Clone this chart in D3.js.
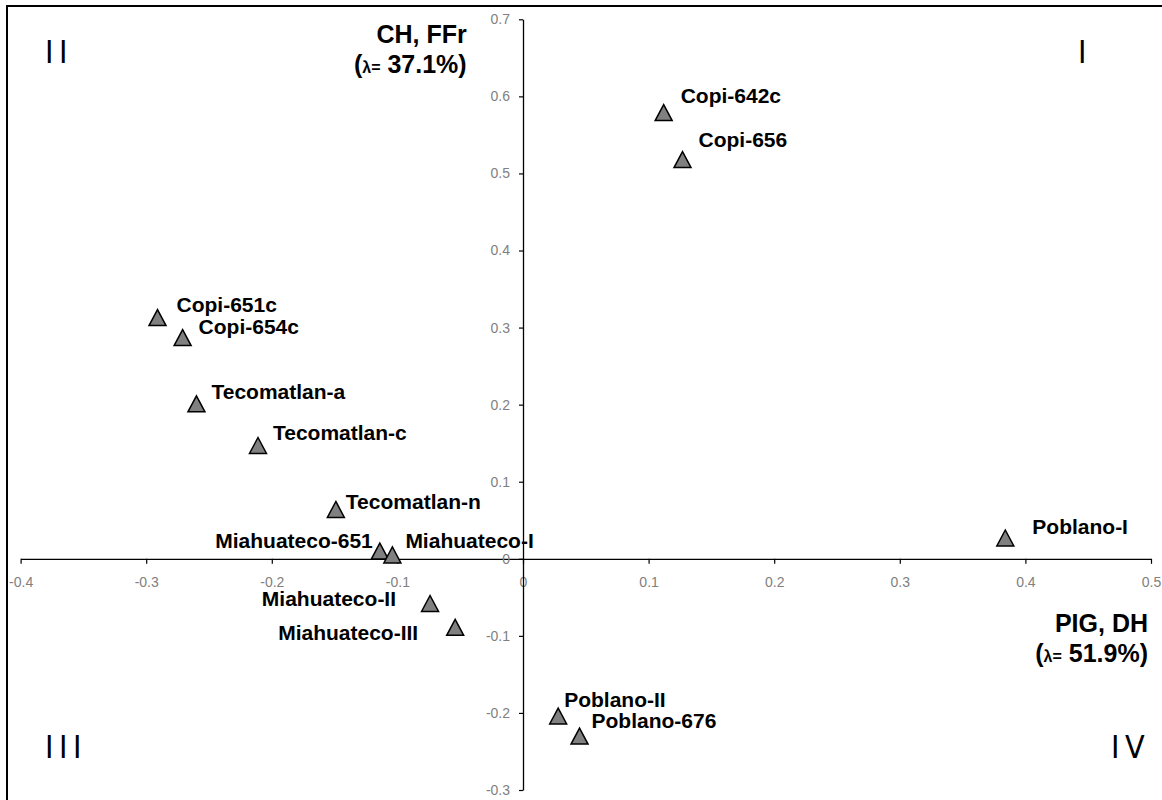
<!DOCTYPE html>
<html>
<head>
<meta charset="utf-8">
<script src="https://cdn.jsdelivr.net/npm/d3@7"></script>
<style>
  body { margin: 0; background: #fff; }
  svg { display: block; font-family: "Liberation Sans", Arial, sans-serif; }
  .tick text { fill: #808080; font-size: 14px; font-family: "Liberation Sans", Arial, sans-serif; }
  .pt-label { font-weight: bold; font-size: 21px; fill: #000; }
  .ax-title { font-weight: bold; font-size: 25px; fill: #000; }
  .quad { font-family: "Liberation Sans Narrow", "DejaVu Sans Condensed", sans-serif; font-size: 32px; letter-spacing: 5.5px; fill: #000; }
</style>
</head>
<body>
<div id="chart"></div>
<script>
// scores on the two principal components
const names = [
  "Copi-642c", "Copi-656", "Copi-651c", "Copi-654c",
  "Tecomatlan-a", "Tecomatlan-c", "Tecomatlan-n",
  "Miahuateco-651", "Miahuateco-I", "Miahuateco-II", "Miahuateco-III",
  "Poblano-I", "Poblano-II", "Poblano-676",
];
const pc1 = [0.112, 0.127, -0.291, -0.271, -0.260, -0.211, -0.149,
  -0.114, -0.104, -0.074, -0.054, 0.384, 0.028, 0.045];
const pc2 = [0.579, 0.518, 0.313, 0.287, 0.201, 0.147, 0.064,
  0.010, 0.005, -0.058, -0.089, 0.027, -0.204, -0.230];

const xTicks = [-0.4, -0.3, -0.2, -0.1, 0, 0.1, 0.2, 0.3, 0.4, 0.5];
const yTicks = [-0.3, -0.2, -0.1, 0, 0.1, 0.2, 0.3, 0.4, 0.5, 0.6, 0.7];

// label placement next to each marker (anchor, dx, dy in px)
const labelPlace = {
  "Copi-642c": ["start", 17, -10],
  "Copi-656": ["start", 16, -13],
  "Copi-651c": ["start", 19, -6],
  "Copi-654c": ["start", 16, -4],
  "Tecomatlan-a": ["start", 15, -5],
  "Tecomatlan-c": ["start", 15, -5],
  "Tecomatlan-n": ["start", 10, 0],
  "Miahuateco-651": ["end", -7, -3],
  "Miahuateco-I": ["start", 13, -7],
  "Miahuateco-II": ["end", -34, 3],
  "Miahuateco-III": ["end", -37, 13],
  "Poblano-I": ["start", 27, -4],
  "Poblano-II": ["start", 6, -9],
  "Poblano-676": ["start", 12, -8],
};

const width = 1162, height = 800;

const svg = d3.select("#chart").append("svg")
  .attr("width", width)
  .attr("height", height);

// frame
svg.append("rect")
  .attr("x", 7).attr("y", 6)
  .attr("width", 1300).attr("height", 1000)
  .attr("fill", "none")
  .attr("stroke", "#000")
  .attr("stroke-width", 2);

const x = d3.scaleLinear().domain([-0.4, 0.5]).range([20.6, 1151]);
const y = d3.scaleLinear().domain([-0.3, 0.7]).range([790, 19.3]);

const fmt = d => (d === 0 ? "0" : d.toFixed(1));

const xAxis = svg.append("g")
  .attr("transform", `translate(0,${y(0)})`)
  .call(d3.axisBottom(x).tickValues(xTicks).tickFormat(fmt)
    .tickSize(5).tickSizeOuter(0).tickPadding(13));

const yAxis = svg.append("g")
  .attr("transform", `translate(${x(0)},0)`)
  .call(d3.axisLeft(y).tickValues(yTicks).tickFormat(fmt)
    .tickSize(4).tickSizeOuter(0).tickPadding(9));

[xAxis, yAxis].forEach(g => {
  g.attr("font-family", null).attr("font-size", null);
  g.select(".domain").attr("stroke", "#000").attr("stroke-width", 1.3);
  g.selectAll(".tick line").attr("stroke", "#000").attr("stroke-width", 1.2);
});

// triangle centred on its bounding box
const tri = {
  draw(ctx, size) {
    const w = Math.sqrt(size), h = w * 0.94;
    ctx.moveTo(0, -h / 2);
    ctx.lineTo(w / 2, h / 2);
    ctx.lineTo(-w / 2, h / 2);
    ctx.closePath();
  },
};

const pts = names.map((n, i) => ({ name: n, a: pc1[i], b: pc2[i] }));

svg.append("g")
  .selectAll("path")
  .data(pts)
  .enter()
  .append("path")
  .attr("d", d3.symbol(tri, 289))
  .attr("transform", d => `translate(${x(d.a)},${y(d.b)})`)
  .attr("fill", "#808080")
  .attr("stroke", "#000")
  .attr("stroke-width", 1.5);

svg.append("g")
  .selectAll("text")
  .data(pts)
  .enter()
  .append("text")
  .attr("class", "pt-label")
  .attr("x", d => x(d.a) + labelPlace[d.name][1])
  .attr("y", d => y(d.b) + labelPlace[d.name][2])
  .attr("text-anchor", d => labelPlace[d.name][0])
  .text(d => d.name);

// axis titles
function axTitle(tx, ty, line1, pct) {
  const g = svg.append("g");
  g.append("text").attr("class", "ax-title")
    .attr("x", tx).attr("y", ty).attr("text-anchor", "end")
    .text(line1);
  const t2 = g.append("text").attr("class", "ax-title")
    .attr("x", tx).attr("y", ty + 30).attr("text-anchor", "end");
  t2.append("tspan").text("(");
  t2.append("tspan").style("font-size", "16px").text("λ=");
  t2.append("tspan").text(" " + pct + ")");
}
axTitle(466.7, 43.3, "CH, FFr", "37.1%");
axTitle(1148, 632, "PIG, DH", "51.9%");

// quadrant numbers
svg.append("text").attr("class", "quad").attr("x", 45).attr("y", 63).text("II");
svg.append("text").attr("class", "quad").attr("x", 1078).attr("y", 63).text("I");
svg.append("text").attr("class", "quad").attr("x", 45).attr("y", 758).text("III");
svg.append("text").attr("class", "quad").attr("x", 1111).attr("y", 758).text("IV");
</script>
</body>
</html>
